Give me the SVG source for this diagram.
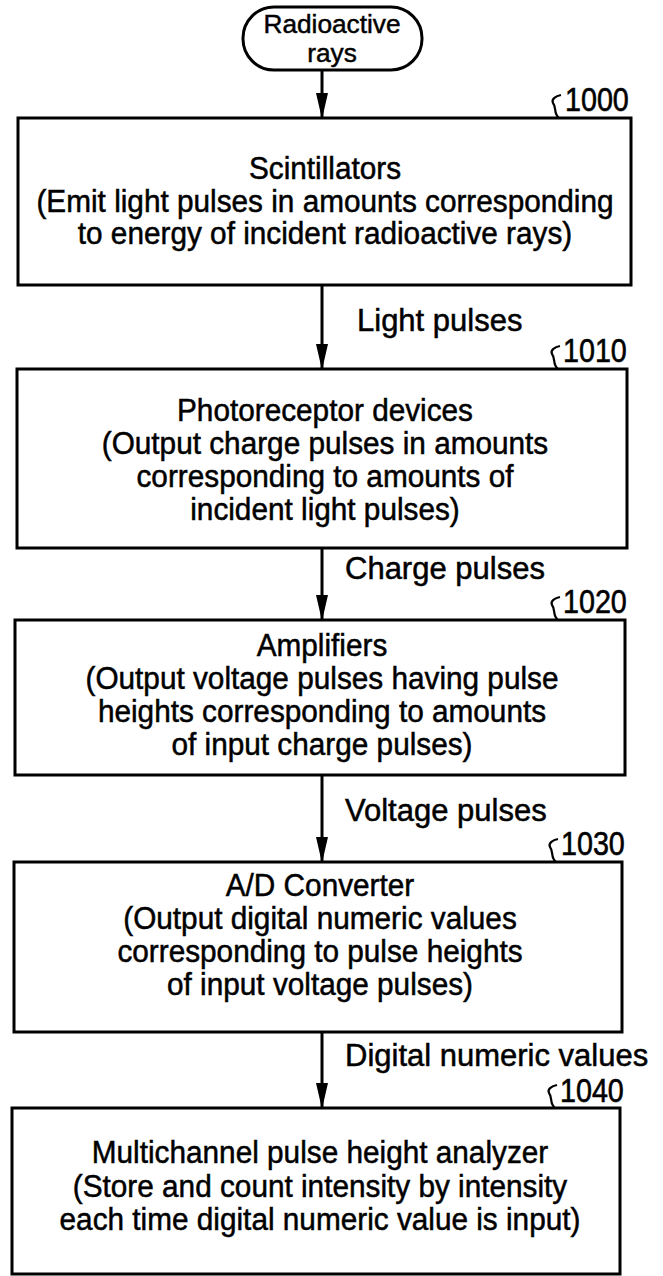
<svg xmlns="http://www.w3.org/2000/svg" width="663" height="1276" viewBox="0 0 663 1276">
<defs>
<marker id="ah" markerWidth="26" markerHeight="12" refX="25" refY="6" orient="auto" markerUnits="userSpaceOnUse" viewBox="0 0 26 12">
<path d="M0,0 L26,6 L0,12 Z" fill="#000"/>
</marker>
<style>
.box{fill:#fff;stroke:#000;stroke-width:3}
.t{font-family:"Liberation Sans",Arial,sans-serif;font-size:31px;fill:#000;stroke:#000;stroke-width:0.5;text-anchor:middle}
.st{font-family:"Liberation Sans",Arial,sans-serif;font-size:25px;fill:#000;stroke:#000;stroke-width:0.45;text-anchor:middle}
.lbl{font-family:"Liberation Sans",Arial,sans-serif;font-size:31px;fill:#000;stroke:#000;stroke-width:0.5}
.ref{font-family:"Liberation Sans",Arial,sans-serif;font-size:33px;fill:#000;stroke:#000;stroke-width:0.6}
.sq{fill:none;stroke:#000;stroke-width:2.2}
.ln{stroke:#000;stroke-width:3;fill:none}
</style>
</defs>
<rect width="663" height="1276" fill="#fff"/>
<g id="connectors">
<line class="ln" x1="322" y1="70" x2="322" y2="118" marker-end="url(#ah)"/>
<line class="ln" x1="322" y1="285" x2="322" y2="369" marker-end="url(#ah)"/>
<line class="ln" x1="322" y1="548" x2="322" y2="620" marker-end="url(#ah)"/>
<line class="ln" x1="322" y1="775" x2="322" y2="862" marker-end="url(#ah)"/>
<line class="ln" x1="322" y1="1032" x2="322" y2="1108" marker-end="url(#ah)"/>
<text class="lbl" x="357" y="331">Light pulses</text>
<text class="lbl" x="345" y="579">Charge pulses</text>
<text class="lbl" x="345" y="821">Voltage pulses</text>
<text class="lbl" x="345" y="1066">Digital numeric values</text>
</g>
<g id="start">
<rect class="box" x="243" y="7" width="179" height="63" rx="31" ry="31"/>
<text class="st" transform="translate(332,33) scale(1.05,1)">Radioactive</text>
<text class="st" transform="translate(332,62) scale(1.05,1)">rays</text>
</g>
<g id="n1000">
<rect class="box" x="18" y="118" width="613" height="167"/>
<path class="sq" d="M559,118 C553,113 557,108 553,103 C551,99 556,96 561,95"/>
<text class="ref" transform="translate(565,111) scale(0.87,1)">1000</text>
<text class="t" transform="translate(325,179) scale(0.96,1)">Scintillators</text>
<text class="t" transform="translate(325,212) scale(0.96,1)">(Emit light pulses in amounts corresponding</text>
<text class="t" transform="translate(325,244) scale(0.96,1)">to energy of incident radioactive rays)</text>
</g>
<g id="n1010">
<rect class="box" x="17" y="369" width="610" height="179"/>
<path class="sq" d="M558,369 C552,364 556,359 552,354 C550,350 555,347 560,346"/>
<text class="ref" transform="translate(563,362) scale(0.87,1)">1010</text>
<text class="t" transform="translate(325,421) scale(0.96,1)">Photoreceptor devices</text>
<text class="t" transform="translate(325,454) scale(0.96,1)">(Output charge pulses in amounts</text>
<text class="t" transform="translate(325,487) scale(0.96,1)">corresponding to amounts of</text>
<text class="t" transform="translate(325,520) scale(0.96,1)">incident light pulses)</text>
</g>
<g id="n1020">
<rect class="box" x="15" y="620" width="610" height="155"/>
<path class="sq" d="M558,620 C552,615 556,610 552,605 C550,601 555,598 560,597"/>
<text class="ref" transform="translate(563,613) scale(0.87,1)">1020</text>
<text class="t" transform="translate(322,656) scale(0.96,1)">Amplifiers</text>
<text class="t" transform="translate(322,689) scale(0.96,1)">(Output voltage pulses having pulse</text>
<text class="t" transform="translate(322,722) scale(0.96,1)">heights corresponding to amounts</text>
<text class="t" transform="translate(322,755) scale(0.96,1)">of input charge pulses)</text>
</g>
<g id="n1030">
<rect class="box" x="14" y="862" width="608" height="170"/>
<path class="sq" d="M556,862 C550,857 554,852 550,847 C548,843 553,840 558,839"/>
<text class="ref" transform="translate(561,855) scale(0.87,1)">1030</text>
<text class="t" transform="translate(320,896) scale(0.96,1)">A/D Converter</text>
<text class="t" transform="translate(320,929) scale(0.96,1)">(Output digital numeric values</text>
<text class="t" transform="translate(320,962) scale(0.96,1)">corresponding to pulse heights</text>
<text class="t" transform="translate(320,995) scale(0.96,1)">of input voltage pulses)</text>
</g>
<g id="n1040">
<rect class="box" x="12" y="1108" width="608" height="166"/>
<path class="sq" d="M555,1108 C549,1103 553,1098 549,1093 C547,1089 552,1086 557,1085"/>
<text class="ref" transform="translate(560,1102) scale(0.87,1)">1040</text>
<text class="t" transform="translate(320,1163) scale(0.96,1)">Multichannel pulse height analyzer</text>
<text class="t" transform="translate(320,1197) scale(0.96,1)">(Store and count intensity by intensity</text>
<text class="t" transform="translate(320,1230) scale(0.96,1)">each time digital numeric value is input)</text>
</g>
</svg>
